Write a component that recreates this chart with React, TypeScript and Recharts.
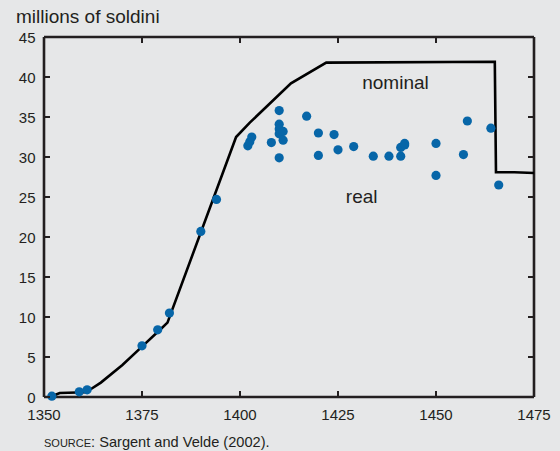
import React from "react";
import { ComposedChart, Scatter, XAxis, YAxis } from "recharts";

// Real values (dots)
const realYears = [1352, 1359, 1361, 1375, 1379, 1382, 1390, 1394, 1402, 1402.5, 1403, 1408, 1410, 1410, 1410, 1410, 1410, 1411, 1411, 1417, 1420, 1420, 1424, 1425, 1429, 1434, 1438, 1441, 1441, 1442, 1442, 1450, 1450, 1457, 1458, 1464, 1466];
const realValues = [0.1, 0.65, 0.9, 6.4, 8.4, 10.5, 20.7, 24.7, 31.4, 31.9, 32.5, 31.8, 35.8, 34.1, 33.5, 32.9, 29.9, 33.2, 32.1, 35.1, 33.0, 30.2, 32.8, 30.9, 31.3, 30.1, 30.1, 30.1, 31.2, 31.5, 31.7, 31.7, 27.7, 30.3, 34.5, 33.6, 26.5];

// Nominal values (line)
const nominalYears = [1352, 1354, 1360.5, 1362, 1364.5, 1370, 1375, 1380, 1381.5, 1399, 1402.5, 1413, 1422, 1465, 1465.3, 1470, 1475];
const nominalValues = [0.1, 0.5, 0.6, 1.0, 1.8, 4.0, 6.3, 8.6, 9.3, 32.5, 34.3, 39.2, 41.8, 41.9, 28.1, 28.1, 28.0];

const xTicks = [1350, 1375, 1400, 1425, 1450, 1475];
const yTicks = [0, 5, 10, 15, 20, 25, 30, 35, 40, 45];

const realData = realYears.map((year, i) => ({ year, value: realValues[i] }));
const nominalData = nominalYears.map((year, i) => ({ year, value: nominalValues[i] }));

const INK = "#231f20";
const FONT = "'Liberation Sans', Arial, Helvetica, sans-serif";
const TICK_LEN = 6;

const BottomTick = (props: any) => {
  const { x, y, payload } = props;
  return (
    <g>
      <line x1={x} x2={x} y1={y} y2={y - TICK_LEN} stroke={INK} strokeWidth={2} />
      <text x={x} y={y + 23} textAnchor="middle" fontSize={15} fill={INK} fontFamily={FONT}>
        {payload.value}
      </text>
    </g>
  );
};

const TopTick = (props: any) => {
  const { x, y } = props;
  return <line x1={x} x2={x} y1={y} y2={y + TICK_LEN} stroke={INK} strokeWidth={2} />;
};

const LeftTick = (props: any) => {
  const { x, y, payload } = props;
  return (
    <g>
      <line x1={x} x2={x + TICK_LEN} y1={y} y2={y} stroke={INK} strokeWidth={2} />
      <text x={x - 8.5} y={y + 6} textAnchor="end" fontSize={15} fill={INK} fontFamily={FONT}>
        {payload.value}
      </text>
    </g>
  );
};

const RightTick = (props: any) => {
  const { x, y } = props;
  return <line x1={x} x2={x - TICK_LEN} y1={y} y2={y} stroke={INK} strokeWidth={2} />;
};

const Dot = (props: any) => {
  const { cx, cy } = props;
  return <circle cx={cx} cy={cy} r={4.6} fill="#0766a8" />;
};

const NoShape = () => <g />;

export default function App() {
  return (
    <div
      style={{
        position: "absolute",
        left: 0,
        top: 0,
        width: 560,
        height: 451,
        background: "#e6e7e8",
        fontFamily: FONT,
        overflow: "hidden",
      }}
    >
      <ComposedChart
        width={560}
        height={451}
        margin={{ top: 36, right: 25, bottom: 53, left: 43 }}
      >
        <XAxis
          xAxisId="bottom"
          dataKey="year"
          type="number"
          domain={[1350, 1475]}
          ticks={xTicks}
          height={1}
          tickSize={0}
          tickMargin={0}
          axisLine={{ stroke: INK, strokeWidth: 2.6 }}
          tick={BottomTick}
          interval={0}
        />
        <XAxis
          xAxisId="top"
          orientation="top"
          dataKey="year"
          type="number"
          domain={[1350, 1475]}
          ticks={xTicks}
          height={1}
          tickSize={0}
          tickMargin={0}
          axisLine={{ stroke: INK, strokeWidth: 2.6 }}
          tick={TopTick}
          interval={0}
        />
        <YAxis
          yAxisId="left"
          dataKey="value"
          type="number"
          domain={[0, 45]}
          ticks={yTicks}
          width={1}
          tickSize={0}
          tickMargin={0}
          axisLine={{ stroke: INK, strokeWidth: 2.6 }}
          tick={LeftTick}
          interval={0}
        />
        <YAxis
          yAxisId="right"
          orientation="right"
          dataKey="value"
          type="number"
          domain={[0, 45]}
          ticks={yTicks}
          width={1}
          tickSize={0}
          tickMargin={0}
          axisLine={{ stroke: INK, strokeWidth: 2.6 }}
          tick={RightTick}
          interval={0}
        />
        <Scatter
          data={nominalData}
          xAxisId="top"
          yAxisId="right"
          line={{ stroke: "#000000", strokeWidth: 2.6 }}
          lineJointType="linear"
          shape={NoShape}
          isAnimationActive={false}
        />
        <Scatter
          data={realData}
          xAxisId="bottom"
          yAxisId="left"
          shape={Dot}
          isAnimationActive={false}
        />
      </ComposedChart>
      <svg
        width={560}
        height={451}
        style={{ position: "absolute", left: 0, top: 0, pointerEvents: "none" }}
      >
        <text x={16} y={23} fontSize={19} fill={INK} fontFamily={FONT}>
          millions of soldini
        </text>
        <text x={395.5} y={88.5} fontSize={19} fill={INK} fontFamily={FONT} textAnchor="middle">
          nominal
        </text>
        <text x={361.7} y={203} fontSize={19} fill={INK} fontFamily={FONT} textAnchor="middle">
          real
        </text>
        <text x={44} y={447} fontSize={14.6} fill={INK} fontFamily={FONT}>
          <tspan fontSize={11}>SOURCE</tspan>
          <tspan>: Sargent and Velde (2002).</tspan>
        </text>
      </svg>
    </div>
  );
}
